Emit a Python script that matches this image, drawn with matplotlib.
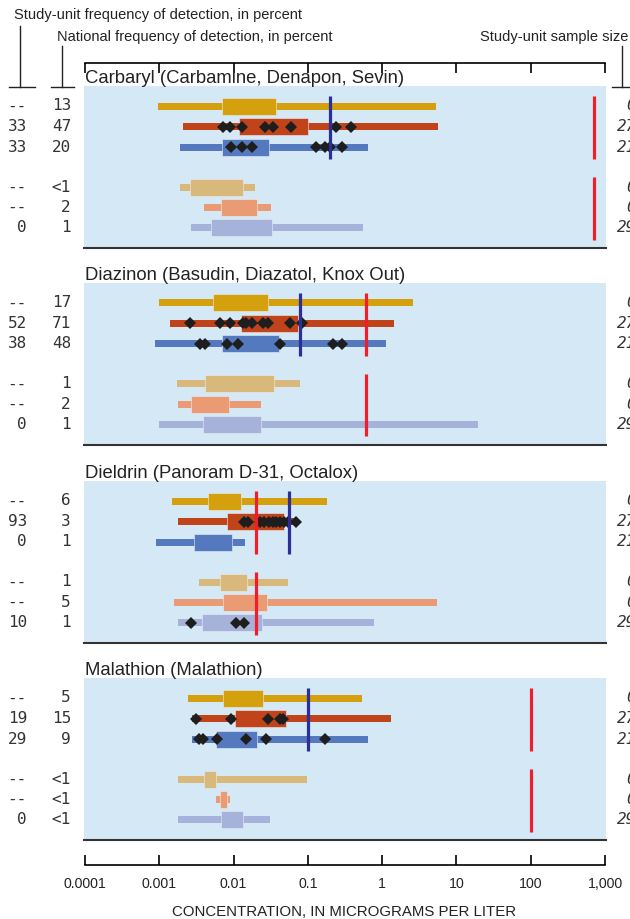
import matplotlib.pyplot as plt
from matplotlib.lines import Line2D
from matplotlib.ticker import FixedLocator, NullLocator

# ---- data -------------------------------------------------------------
compounds = [
    "Carbaryl (Carbamine, Denapon, Sevin)",
    "Diazinon (Basudin, Diazatol, Knox Out)",
    "Dieldrin (Panoram D-31, Octalox)",
    "Malathion (Malathion)",
]

study_freq = [
    ["--", "33", "33", "--", "--", "0"],
    ["--", "52", "38", "--", "--", "0"],
    ["--", "93", "0", "--", "--", "10"],
    ["--", "19", "29", "--", "--", "0"],
]
national_freq = [
    ["13", "47", "20", "<1", "2", "1"],
    ["17", "71", "48", "1", "2", "1"],
    ["6", "3", "1", "1", "5", "1"],
    ["5", "15", "9", "<1", "<1", "<1"],
]
sample_size = [
    ["0", "27", "21", "0", "0", "29"],
    ["0", "27", "21", "0", "0", "29"],
    ["0", "27", "21", "0", "0", "29"],
    ["0", "27", "21", "0", "0", "29"],
]

# whiskers (thin bar) and box (thick bar), per compound, per row
whisker_low = [
    [0.00099, 0.00215, 0.00196, 0.00196, 0.0041, 0.00275],
    [0.001, 0.00142, 0.0009, 0.00175, 0.0018, 0.00101],
    [0.00153, 0.00184, 0.00093, 0.0035, 0.0016, 0.0018],
    [0.0025, 0.0028, 0.0028, 0.00184, 0.0059, 0.00184],
]
whisker_high = [
    [5.3, 5.6, 0.64, 0.0194, 0.0318, 0.55],
    [2.55, 1.42, 1.13, 0.079, 0.0234, 19.4],
    [0.18, 0.075, 0.0144, 0.055, 5.37, 0.78],
    [0.53, 1.29, 0.64, 0.098, 0.0091, 0.031],
]
box_low = [
    [0.007, 0.0118, 0.007, 0.0026, 0.0068, 0.0051],
    [0.0054, 0.0126, 0.007, 0.0042, 0.0027, 0.004],
    [0.0046, 0.0083, 0.003, 0.0066, 0.0074, 0.0038],
    [0.0073, 0.0107, 0.0059, 0.0041, 0.0066, 0.0068],
]
box_high = [
    [0.038, 0.1, 0.030, 0.0134, 0.0206, 0.033],
    [0.029, 0.074, 0.041, 0.0352, 0.0089, 0.024],
    [0.0126, 0.048, 0.0097, 0.0153, 0.0286, 0.0245],
    [0.025, 0.051, 0.0206, 0.0058, 0.0084, 0.0134],
]

# individual study-unit detections (diamonds)
detections = [
    [[], [0.0072, 0.0092, 0.013, 0.027, 0.034, 0.059, 0.24, 0.38],
     [0.0095, 0.013, 0.018, 0.13, 0.17, 0.20, 0.29], [], [], []],
    [[], [0.00266, 0.0066, 0.0092, 0.0134, 0.0147, 0.0177, 0.0249, 0.029, 0.0575, 0.083],
     [0.0036, 0.0042, 0.0083, 0.0117, 0.0426, 0.22, 0.29], [], [], []],
    [[], [0.0142, 0.016, 0.0226, 0.026, 0.030, 0.034, 0.038, 0.043, 0.048, 0.055, 0.07],
     [], [], [], [0.0027, 0.0108, 0.0142]],
    [[], [0.0032, 0.0095, 0.029, 0.042, 0.047],
     [0.0035, 0.004, 0.006, 0.0149, 0.0275, 0.173], [], [], []],
]

aquatic_guideline = [0.2, 0.08, 0.056, 0.1]
human_guideline = [700, 0.6, 0.02, 100]

tick_values = [0.0001, 0.001, 0.01, 0.1, 1, 10, 100, 1000]
tick_labels = ["0.0001", "0.001", "0.01", "0.1", "1", "10", "100", "1,000"]

# ---- styling ----------------------------------------------------------
row_colors = ["#D4A00E", "#C0431A", "#5479BE", "#D8B97B", "#EB9B73", "#A6B2D9"]
panel_bg = "#D4E8F6"
aquatic_color = "#2C2F98"
human_color = "#EE1E2B"
text_color = "#222222"

W, H = 630, 919
plt.rcParams['font.family'] = ['Liberation Sans', 'DejaVu Sans']

fig = plt.figure(figsize=(W / 100, H / 100), dpi=100)


def fx(px):
    return px / W


def fy(py):
    return 1 - py / H


x_left, x_right = 84, 606
panel_tops = [86, 283, 481, 678]
panel_h = 162
row_pos = [20, 40.5, 61, 101, 121.5, 141.5]

for i, name in enumerate(compounds):
    top = panel_tops[i]
    ax = fig.add_axes([fx(x_left), fy(top + panel_h), fx(x_right) - fx(x_left), panel_h / H])
    ax.set_facecolor(panel_bg)
    ax.set_xscale('log')
    ax.set_xlim(1e-4, 1e3)
    ax.set_ylim(panel_h, 0)
    ax.xaxis.set_major_locator(NullLocator())
    ax.xaxis.set_minor_locator(NullLocator())
    ax.set_yticks([])
    for s in ['top', 'left', 'right']:
        ax.spines[s].set_visible(False)
    ax.spines['bottom'].set_color('#333333')
    ax.spines['bottom'].set_linewidth(1.5)

    for r in range(6):
        y = row_pos[r]
        lo, hi = whisker_low[i][r], whisker_high[i][r]
        ax.barh(y, hi - lo, left=lo, height=7, color=row_colors[r], linewidth=0)
        blo, bhi = box_low[i][r], box_high[i][r]
        ax.barh(y, bhi - blo, left=blo, height=17, color=row_colors[r],
                edgecolor='#E8EEF6', linewidth=0.4)
        if detections[i][r]:
            ax.plot(detections[i][r], [y] * len(detections[i][r]), 'D',
                    color='#1E1E1E', markersize=5.8, markeredgewidth=0)

    # guideline lines
    ax.plot([aquatic_guideline[i]] * 2, [row_pos[0] - 10, row_pos[2] + 12],
            color=aquatic_color, linewidth=2.3, solid_capstyle='butt')
    for g in (0, 3):
        ax.plot([human_guideline[i]] * 2, [row_pos[g] - 10, row_pos[g + 2] + 12],
                color=human_color, linewidth=2.3, solid_capstyle='butt')

    fig.text(fx(85), fy(top - 3), name, fontsize=13.3, color=text_color,
             ha='left', va='baseline')

    for r in range(6):
        ypix = top + row_pos[r]
        fig.text(fx(27), fy(ypix), study_freq[i][r], fontsize=11.5,
                 family='DejaVu Sans Mono', color='#333333', ha='right', va='center')
        fig.text(fx(71), fy(ypix), national_freq[i][r], fontsize=11.5,
                 family='DejaVu Sans Mono', color='#333333', ha='right', va='center')
        fig.text(fx(636), fy(ypix), sample_size[i][r], fontsize=11.5,
                 family='DejaVu Sans Mono', style='italic', color='#333333',
                 ha='right', va='center')

# top scale bar
axt = fig.add_axes([fx(85), fy(73), fx(605) - fx(85), 10 / H])
axt.set_xscale('log')
axt.set_xlim(1e-4, 1e3)
axt.patch.set_visible(False)
for s in ['bottom', 'left', 'right']:
    axt.spines[s].set_visible(False)
axt.spines['top'].set_linewidth(1.2)
axt.set_yticks([])
axt.xaxis.set_major_locator(FixedLocator(tick_values))
axt.xaxis.set_minor_locator(NullLocator())
axt.tick_params(axis='x', bottom=False, top=True, labelbottom=False, labeltop=False,
                direction='in', length=7.2, width=1.2)

# bottom scale bar
axb = fig.add_axes([fx(85), fy(865), fx(605) - fx(85), 10 / H])
axb.set_xscale('log')
axb.set_xlim(1e-4, 1e3)
axb.patch.set_visible(False)
for s in ['top', 'left', 'right']:
    axb.spines[s].set_visible(False)
axb.spines['bottom'].set_linewidth(1.2)
axb.set_yticks([])
axb.xaxis.set_major_locator(FixedLocator(tick_values))
axb.xaxis.set_minor_locator(NullLocator())
axb.set_xticklabels(tick_labels)
axb.tick_params(axis='x', direction='in', length=7.2, width=1.2, pad=16.5,
                labelsize=10.2, labelcolor=text_color)
for lab in axb.get_xticklabels():
    lab.set_verticalalignment('baseline')

fig.text(fx(344), fy(912), "CONCENTRATION, IN MICROGRAMS PER LITER", fontsize=10.8,
         color=text_color, ha='center', va='center')

# column headers
fig.text(fx(14), fy(15), "Study-unit frequency of detection, in percent", fontsize=10.5,
         color=text_color, ha='left', va='center')
fig.text(fx(57), fy(37), "National frequency of detection, in percent", fontsize=10.5,
         color=text_color, ha='left', va='center')
fig.text(fx(628), fy(37), "Study-unit sample size", fontsize=10.5,
         color=text_color, ha='right', va='center')

for xv, y0, xa, xb in [(20, 26, 9, 35), (62, 46, 51, 74), (622, 46, 612, 634)]:
    fig.add_artist(Line2D([fx(xv), fx(xv)], [fy(y0), fy(87)], color='#222222', lw=1))
    fig.add_artist(Line2D([fx(xa), fx(xb)], [fy(87), fy(87)], color='#222222', lw=1))

fig.savefig("out.png", dpi=100)
